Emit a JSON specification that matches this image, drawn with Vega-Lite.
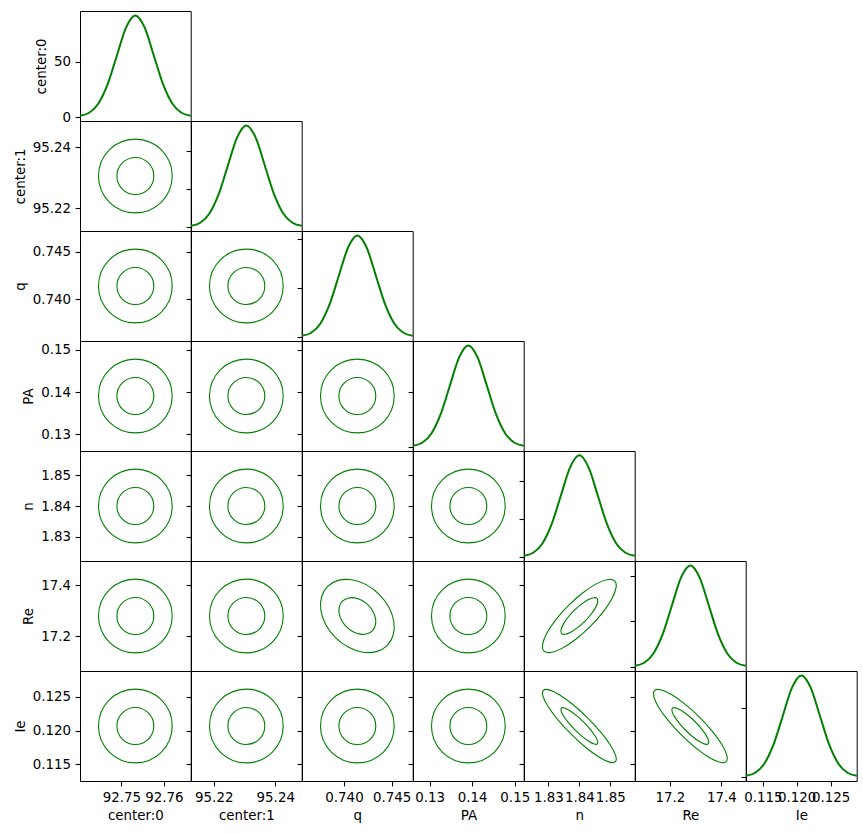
{
"$schema": "https://vega.github.io/schema/vega-lite/v6.json",
"background": "white",
"padding": {"left": 12, "top": 10, "right": 5, "bottom": 5},
"columns": 7,
"spacing": 0,
"bounds": "flush",
"config": {
 "view": {"stroke": "black", "strokeWidth": 1},
 "font": "DejaVu Sans",
 "axis": {"domain": false, "grid": false, "tickColor": "black", "tickSize": 4.9, "tickWidth": 1.1, "labelColor": "black", "labelFont": "DejaVu Sans", "labelFontSize": 13.4, "labelPadding": 4.5, "labelOverlap": false, "labelFlush": false, "labelBound": false, "titleColor": "black", "titleFont": "DejaVu Sans", "titleFontSize": 13.4, "titleFontWeight": "normal", "titlePadding": 5}
},
"concat": [
{"width":110.7,"height":110,"data":{"values":[{"x":92.7403,"y":1.29},{"x":92.74247,"y":4.04},{"x":92.74463,"y":12.46},{"x":92.7468,"y":29.89},{"x":92.74897,"y":55.84},{"x":92.75113,"y":81.25},{"x":92.7533,"y":92.07},{"x":92.75547,"y":81.25},{"x":92.75763,"y":55.84},{"x":92.7598,"y":29.89},{"x":92.76197,"y":12.46},{"x":92.76413,"y":4.04},{"x":92.7663,"y":1.29}]},
 "mark":{"type":"line","interpolate":"monotone","color":"#008000","strokeWidth":2},
 "encoding":{"x":{"field":"x","type":"quantitative","scale":{"domain":[92.7403,92.7663],"nice":false,"zero":false},"axis":null},
  "y":{"field":"y","type":"quantitative","scale":{"domain":[-3.41,96.03],"nice":false,"zero":false},"axis":{"values":[0,50],"format":"d","title":"center:0"}}}},
{"width":110.7,"height":110,"data":{"values":[{}]},"mark":{"type":"point","opacity":0},"encoding":{},"view":{"stroke":null}},
{"width":110.7,"height":110,"data":{"values":[{}]},"mark":{"type":"point","opacity":0},"encoding":{},"view":{"stroke":null}},
{"width":110.7,"height":110,"data":{"values":[{}]},"mark":{"type":"point","opacity":0},"encoding":{},"view":{"stroke":null}},
{"width":110.7,"height":110,"data":{"values":[{}]},"mark":{"type":"point","opacity":0},"encoding":{},"view":{"stroke":null}},
{"width":110.7,"height":110,"data":{"values":[{}]},"mark":{"type":"point","opacity":0},"encoding":{},"view":{"stroke":null}},
{"width":110.7,"height":110,"data":{"values":[{}]},"mark":{"type":"point","opacity":0},"encoding":{},"view":{"stroke":null}},

{"width":110.7,"height":110,"data":{"values":[{"x":92.7533,"y":95.2306}]},
 "encoding":{"x":{"field":"x","type":"quantitative","scale":{"domain":[92.7403,92.7663],"nice":false,"zero":false},"axis":null},
  "y":{"field":"y","type":"quantitative","scale":{"domain":[95.2126,95.2486],"nice":false,"zero":false},"axis":{"values":[95.22,95.24],"format":".2f","title":"center:1"}}},
 "layer":[{"mark":{"type":"point","shape":"circle","filled":false,"size":5432,"color":"#008000","strokeWidth":1.1,"opacity":1}},{"mark":{"type":"point","shape":"circle","filled":false,"size":1362,"color":"#008000","strokeWidth":1.1,"opacity":1}}]},
{"width":110.7,"height":110,"data":{"values":[{"x":95.2126,"y":0.93},{"x":95.2156,"y":2.92},{"x":95.2186,"y":9.0},{"x":95.2216,"y":21.59},{"x":95.2246,"y":40.33},{"x":95.2276,"y":58.68},{"x":95.2306,"y":66.49},{"x":95.2336,"y":58.68},{"x":95.2366,"y":40.33},{"x":95.2396,"y":21.59},{"x":95.2426,"y":9.0},{"x":95.2456,"y":2.92},{"x":95.2486,"y":0.93}]},
 "mark":{"type":"line","interpolate":"monotone","color":"#008000","strokeWidth":2},
 "encoding":{"x":{"field":"x","type":"quantitative","scale":{"domain":[95.2126,95.2486],"nice":false,"zero":false},"axis":null},
  "y":{"field":"y","type":"quantitative","scale":{"domain":[-2.46,69.35],"nice":false,"zero":false},"axis":{"values":[0,25,50],"labels":false,"title":null}}}},
{"width":110.7,"height":110,"data":{"values":[{}]},"mark":{"type":"point","opacity":0},"encoding":{},"view":{"stroke":null}},
{"width":110.7,"height":110,"data":{"values":[{}]},"mark":{"type":"point","opacity":0},"encoding":{},"view":{"stroke":null}},
{"width":110.7,"height":110,"data":{"values":[{}]},"mark":{"type":"point","opacity":0},"encoding":{},"view":{"stroke":null}},
{"width":110.7,"height":110,"data":{"values":[{}]},"mark":{"type":"point","opacity":0},"encoding":{},"view":{"stroke":null}},
{"width":110.7,"height":110,"data":{"values":[{}]},"mark":{"type":"point","opacity":0},"encoding":{},"view":{"stroke":null}},

{"width":110.7,"height":110,"data":{"values":[{"x":92.7533,"y":0.7414}]},
 "encoding":{"x":{"field":"x","type":"quantitative","scale":{"domain":[92.7403,92.7663],"nice":false,"zero":false},"axis":null},
  "y":{"field":"y","type":"quantitative","scale":{"domain":[0.7356,0.7472],"nice":false,"zero":false},"axis":{"values":[0.74,0.745],"format":".3f","title":"q"}}},
 "layer":[{"mark":{"type":"point","shape":"circle","filled":false,"size":5432,"color":"#008000","strokeWidth":1.1,"opacity":1}},{"mark":{"type":"point","shape":"circle","filled":false,"size":1362,"color":"#008000","strokeWidth":1.1,"opacity":1}}]},
{"width":110.7,"height":110,"data":{"values":[{"x":95.2306,"y":0.7414}]},
 "encoding":{"x":{"field":"x","type":"quantitative","scale":{"domain":[95.2126,95.2486],"nice":false,"zero":false},"axis":null},
  "y":{"field":"y","type":"quantitative","scale":{"domain":[0.7356,0.7472],"nice":false,"zero":false},"axis":{"values":[0.74,0.745],"labels":false,"title":null}}},
 "layer":[{"mark":{"type":"point","shape":"circle","filled":false,"size":5432,"color":"#008000","strokeWidth":1.1,"opacity":1}},{"mark":{"type":"point","shape":"circle","filled":false,"size":1362,"color":"#008000","strokeWidth":1.1,"opacity":1}}]},
{"width":110.7,"height":110,"data":{"values":[{"x":0.7356,"y":2.89},{"x":0.736567,"y":9.06},{"x":0.737533,"y":27.92},{"x":0.7385,"y":67.0},{"x":0.739467,"y":125.15},{"x":0.740433,"y":182.1},{"x":0.7414,"y":206.35},{"x":0.742367,"y":182.1},{"x":0.743333,"y":125.15},{"x":0.7443,"y":67.0},{"x":0.745267,"y":27.92},{"x":0.746233,"y":9.06},{"x":0.7472,"y":2.89}]},
 "mark":{"type":"line","interpolate":"monotone","color":"#008000","strokeWidth":2},
 "encoding":{"x":{"field":"x","type":"quantitative","scale":{"domain":[0.7356,0.7472],"nice":false,"zero":false},"axis":null},
  "y":{"field":"y","type":"quantitative","scale":{"domain":[-7.63,215.22],"nice":false,"zero":false},"axis":{"values":[0,100,200],"labels":false,"title":null}}}},
{"width":110.7,"height":110,"data":{"values":[{}]},"mark":{"type":"point","opacity":0},"encoding":{},"view":{"stroke":null}},
{"width":110.7,"height":110,"data":{"values":[{}]},"mark":{"type":"point","opacity":0},"encoding":{},"view":{"stroke":null}},
{"width":110.7,"height":110,"data":{"values":[{}]},"mark":{"type":"point","opacity":0},"encoding":{},"view":{"stroke":null}},
{"width":110.7,"height":110,"data":{"values":[{}]},"mark":{"type":"point","opacity":0},"encoding":{},"view":{"stroke":null}},

{"width":110.7,"height":110,"data":{"values":[{"x":92.7533,"y":0.1391}]},
 "encoding":{"x":{"field":"x","type":"quantitative","scale":{"domain":[92.7403,92.7663],"nice":false,"zero":false},"axis":null},
  "y":{"field":"y","type":"quantitative","scale":{"domain":[0.1261,0.1521],"nice":false,"zero":false},"axis":{"values":[0.13,0.14,0.15],"format":".2f","title":"PA"}}},
 "layer":[{"mark":{"type":"point","shape":"circle","filled":false,"size":5432,"color":"#008000","strokeWidth":1.1,"opacity":1}},{"mark":{"type":"point","shape":"circle","filled":false,"size":1362,"color":"#008000","strokeWidth":1.1,"opacity":1}}]},
{"width":110.7,"height":110,"data":{"values":[{"x":95.2306,"y":0.1391}]},
 "encoding":{"x":{"field":"x","type":"quantitative","scale":{"domain":[95.2126,95.2486],"nice":false,"zero":false},"axis":null},
  "y":{"field":"y","type":"quantitative","scale":{"domain":[0.1261,0.1521],"nice":false,"zero":false},"axis":{"values":[0.13,0.14,0.15],"labels":false,"title":null}}},
 "layer":[{"mark":{"type":"point","shape":"circle","filled":false,"size":5432,"color":"#008000","strokeWidth":1.1,"opacity":1}},{"mark":{"type":"point","shape":"circle","filled":false,"size":1362,"color":"#008000","strokeWidth":1.1,"opacity":1}}]},
{"width":110.7,"height":110,"data":{"values":[{"x":0.7414,"y":0.1391}]},
 "encoding":{"x":{"field":"x","type":"quantitative","scale":{"domain":[0.7356,0.7472],"nice":false,"zero":false},"axis":null},
  "y":{"field":"y","type":"quantitative","scale":{"domain":[0.1261,0.1521],"nice":false,"zero":false},"axis":{"values":[0.13,0.14,0.15],"labels":false,"title":null}}},
 "layer":[{"mark":{"type":"point","shape":"circle","filled":false,"size":5432,"color":"#008000","strokeWidth":1.1,"opacity":1}},{"mark":{"type":"point","shape":"circle","filled":false,"size":1362,"color":"#008000","strokeWidth":1.1,"opacity":1}}]},
{"width":110.7,"height":110,"data":{"values":[{"x":0.1261,"y":1.29},{"x":0.128267,"y":4.04},{"x":0.130433,"y":12.46},{"x":0.1326,"y":29.89},{"x":0.134767,"y":55.84},{"x":0.136933,"y":81.25},{"x":0.1391,"y":92.07},{"x":0.141267,"y":81.25},{"x":0.143433,"y":55.84},{"x":0.1456,"y":29.89},{"x":0.147767,"y":12.46},{"x":0.149933,"y":4.04},{"x":0.1521,"y":1.29}]},
 "mark":{"type":"line","interpolate":"monotone","color":"#008000","strokeWidth":2},
 "encoding":{"x":{"field":"x","type":"quantitative","scale":{"domain":[0.1261,0.1521],"nice":false,"zero":false},"axis":null},
  "y":{"field":"y","type":"quantitative","scale":{"domain":[-3.41,96.03],"nice":false,"zero":false},"axis":{"values":[0,50],"labels":false,"title":null}}}},
{"width":110.7,"height":110,"data":{"values":[{}]},"mark":{"type":"point","opacity":0},"encoding":{},"view":{"stroke":null}},
{"width":110.7,"height":110,"data":{"values":[{}]},"mark":{"type":"point","opacity":0},"encoding":{},"view":{"stroke":null}},
{"width":110.7,"height":110,"data":{"values":[{}]},"mark":{"type":"point","opacity":0},"encoding":{},"view":{"stroke":null}},

{"width":110.7,"height":110,"data":{"values":[{"x":92.7533,"y":1.84}]},
 "encoding":{"x":{"field":"x","type":"quantitative","scale":{"domain":[92.7403,92.7663],"nice":false,"zero":false},"axis":null},
  "y":{"field":"y","type":"quantitative","scale":{"domain":[1.8221,1.8579],"nice":false,"zero":false},"axis":{"values":[1.83,1.84,1.85],"format":".2f","title":"n"}}},
 "layer":[{"mark":{"type":"point","shape":"circle","filled":false,"size":5432,"color":"#008000","strokeWidth":1.1,"opacity":1}},{"mark":{"type":"point","shape":"circle","filled":false,"size":1362,"color":"#008000","strokeWidth":1.1,"opacity":1}}]},
{"width":110.7,"height":110,"data":{"values":[{"x":95.2306,"y":1.84}]},
 "encoding":{"x":{"field":"x","type":"quantitative","scale":{"domain":[95.2126,95.2486],"nice":false,"zero":false},"axis":null},
  "y":{"field":"y","type":"quantitative","scale":{"domain":[1.8221,1.8579],"nice":false,"zero":false},"axis":{"values":[1.83,1.84,1.85],"labels":false,"title":null}}},
 "layer":[{"mark":{"type":"point","shape":"circle","filled":false,"size":5432,"color":"#008000","strokeWidth":1.1,"opacity":1}},{"mark":{"type":"point","shape":"circle","filled":false,"size":1362,"color":"#008000","strokeWidth":1.1,"opacity":1}}]},
{"width":110.7,"height":110,"data":{"values":[{"x":0.7414,"y":1.84}]},
 "encoding":{"x":{"field":"x","type":"quantitative","scale":{"domain":[0.7356,0.7472],"nice":false,"zero":false},"axis":null},
  "y":{"field":"y","type":"quantitative","scale":{"domain":[1.8221,1.8579],"nice":false,"zero":false},"axis":{"values":[1.83,1.84,1.85],"labels":false,"title":null}}},
 "layer":[{"mark":{"type":"point","shape":"circle","filled":false,"size":5432,"color":"#008000","strokeWidth":1.1,"opacity":1}},{"mark":{"type":"point","shape":"circle","filled":false,"size":1362,"color":"#008000","strokeWidth":1.1,"opacity":1}}]},
{"width":110.7,"height":110,"data":{"values":[{"x":0.1391,"y":1.84}]},
 "encoding":{"x":{"field":"x","type":"quantitative","scale":{"domain":[0.1261,0.1521],"nice":false,"zero":false},"axis":null},
  "y":{"field":"y","type":"quantitative","scale":{"domain":[1.8221,1.8579],"nice":false,"zero":false},"axis":{"values":[1.83,1.84,1.85],"labels":false,"title":null}}},
 "layer":[{"mark":{"type":"point","shape":"circle","filled":false,"size":5432,"color":"#008000","strokeWidth":1.1,"opacity":1}},{"mark":{"type":"point","shape":"circle","filled":false,"size":1362,"color":"#008000","strokeWidth":1.1,"opacity":1}}]},
{"width":110.7,"height":110,"data":{"values":[{"x":1.8221,"y":0.94},{"x":1.825083,"y":2.94},{"x":1.828067,"y":9.05},{"x":1.83105,"y":21.71},{"x":1.834033,"y":40.55},{"x":1.837017,"y":59.0},{"x":1.84,"y":66.86},{"x":1.842983,"y":59.0},{"x":1.845967,"y":40.55},{"x":1.84895,"y":21.71},{"x":1.851933,"y":9.05},{"x":1.854917,"y":2.94},{"x":1.8579,"y":0.94}]},
 "mark":{"type":"line","interpolate":"monotone","color":"#008000","strokeWidth":2},
 "encoding":{"x":{"field":"x","type":"quantitative","scale":{"domain":[1.8221,1.8579],"nice":false,"zero":false},"axis":null},
  "y":{"field":"y","type":"quantitative","scale":{"domain":[-2.47,69.73],"nice":false,"zero":false},"axis":{"values":[0,25,50],"labels":false,"title":null}}}},
{"width":110.7,"height":110,"data":{"values":[{}]},"mark":{"type":"point","opacity":0},"encoding":{},"view":{"stroke":null}},
{"width":110.7,"height":110,"data":{"values":[{}]},"mark":{"type":"point","opacity":0},"encoding":{},"view":{"stroke":null}},

{"width":110.7,"height":110,"data":{"values":[{"x":92.7533,"y":17.2795}]},
 "encoding":{"x":{"field":"x","type":"quantitative","scale":{"domain":[92.7403,92.7663],"nice":false,"zero":false},"axis":null},
  "y":{"field":"y","type":"quantitative","scale":{"domain":[17.064,17.495],"nice":false,"zero":false},"axis":{"values":[17.2,17.4],"format":".1f","title":"Re"}}},
 "layer":[{"mark":{"type":"point","shape":"circle","filled":false,"size":5432,"color":"#008000","strokeWidth":1.1,"opacity":1}},{"mark":{"type":"point","shape":"circle","filled":false,"size":1362,"color":"#008000","strokeWidth":1.1,"opacity":1}}]},
{"width":110.7,"height":110,"data":{"values":[{"x":95.2306,"y":17.2795}]},
 "encoding":{"x":{"field":"x","type":"quantitative","scale":{"domain":[95.2126,95.2486],"nice":false,"zero":false},"axis":null},
  "y":{"field":"y","type":"quantitative","scale":{"domain":[17.064,17.495],"nice":false,"zero":false},"axis":{"values":[17.2,17.4],"labels":false,"title":null}}},
 "layer":[{"mark":{"type":"point","shape":"circle","filled":false,"size":5432,"color":"#008000","strokeWidth":1.1,"opacity":1}},{"mark":{"type":"point","shape":"circle","filled":false,"size":1362,"color":"#008000","strokeWidth":1.1,"opacity":1}}]},
{"width":110.7,"height":110,"data":{"values":[
 {"x":0.742544,"y":17.322,"lvl":1,"k":0},{"x":0.743053,"y":17.2966,"lvl":1,"k":1},{"x":0.743311,"y":17.2686,"lvl":1,"k":2},{"x":0.743278,"y":17.2423,"lvl":1,"k":3},{"x":0.742959,"y":17.2216,"lvl":1,"k":4},{"x":0.742402,"y":17.2097,"lvl":1,"k":5},{"x":0.741693,"y":17.2085,"lvl":1,"k":6},{"x":0.74094,"y":17.2181,"lvl":1,"k":7},{"x":0.740256,"y":17.237,"lvl":1,"k":8},{"x":0.739747,"y":17.2624,"lvl":1,"k":9},{"x":0.739489,"y":17.2904,"lvl":1,"k":10},{"x":0.739522,"y":17.3167,"lvl":1,"k":11},{"x":0.739841,"y":17.3374,"lvl":1,"k":12},{"x":0.740398,"y":17.3493,"lvl":1,"k":13},{"x":0.741107,"y":17.3505,"lvl":1,"k":14},{"x":0.74186,"y":17.3409,"lvl":1,"k":15},
 {"x":0.743688,"y":17.3645,"lvl":2,"k":0},{"x":0.744706,"y":17.3137,"lvl":2,"k":1},{"x":0.745222,"y":17.2577,"lvl":2,"k":2},{"x":0.745155,"y":17.205,"lvl":2,"k":3},{"x":0.744517,"y":17.1637,"lvl":2,"k":4},{"x":0.743405,"y":17.14,"lvl":2,"k":5},{"x":0.741987,"y":17.1375,"lvl":2,"k":6},{"x":0.74048,"y":17.1567,"lvl":2,"k":7},{"x":0.739112,"y":17.1945,"lvl":2,"k":8},{"x":0.738094,"y":17.2453,"lvl":2,"k":9},{"x":0.737578,"y":17.3013,"lvl":2,"k":10},{"x":0.737645,"y":17.354,"lvl":2,"k":11},{"x":0.738283,"y":17.3953,"lvl":2,"k":12},{"x":0.739395,"y":17.419,"lvl":2,"k":13},{"x":0.740813,"y":17.4215,"lvl":2,"k":14},{"x":0.74232,"y":17.4024,"lvl":2,"k":15}]},
 "mark":{"type":"line","interpolate":"cardinal-closed","color":"#008000","strokeWidth":1.1},
 "encoding":{"x":{"field":"x","type":"quantitative","scale":{"domain":[0.7356,0.7472],"nice":false,"zero":false},"axis":null},
  "y":{"field":"y","type":"quantitative","scale":{"domain":[17.064,17.495],"nice":false,"zero":false},"axis":{"values":[17.2,17.4],"labels":false,"title":null}},
  "detail":{"field":"lvl","type":"nominal"},"order":{"field":"k","type":"quantitative"}}},
{"width":110.7,"height":110,"data":{"values":[{"x":0.1391,"y":17.2795}]},
 "encoding":{"x":{"field":"x","type":"quantitative","scale":{"domain":[0.1261,0.1521],"nice":false,"zero":false},"axis":null},
  "y":{"field":"y","type":"quantitative","scale":{"domain":[17.064,17.495],"nice":false,"zero":false},"axis":{"values":[17.2,17.4],"labels":false,"title":null}}},
 "layer":[{"mark":{"type":"point","shape":"circle","filled":false,"size":5432,"color":"#008000","strokeWidth":1.1,"opacity":1}},{"mark":{"type":"point","shape":"circle","filled":false,"size":1362,"color":"#008000","strokeWidth":1.1,"opacity":1}}]},
{"width":110.7,"height":110,"data":{"values":[
 {"x":1.845708,"y":17.3482,"lvl":1,"k":0},{"x":1.845939,"y":17.335,"lvl":1,"k":1},{"x":1.845266,"y":17.3133,"lvl":1,"k":2},{"x":1.843792,"y":17.2864,"lvl":1,"k":3},{"x":1.84174,"y":17.2586,"lvl":1,"k":4},{"x":1.839423,"y":17.2339,"lvl":1,"k":5},{"x":1.837194,"y":17.2161,"lvl":1,"k":6},{"x":1.835392,"y":17.208,"lvl":1,"k":7},{"x":1.834292,"y":17.2108,"lvl":1,"k":8},{"x":1.834061,"y":17.224,"lvl":1,"k":9},{"x":1.834734,"y":17.2457,"lvl":1,"k":10},{"x":1.836208,"y":17.2726,"lvl":1,"k":11},{"x":1.83826,"y":17.3004,"lvl":1,"k":12},{"x":1.840577,"y":17.3251,"lvl":1,"k":13},{"x":1.842806,"y":17.3429,"lvl":1,"k":14},{"x":1.844608,"y":17.351,"lvl":1,"k":15},
 {"x":1.851416,"y":17.4169,"lvl":2,"k":0},{"x":1.851878,"y":17.3904,"lvl":2,"k":1},{"x":1.850532,"y":17.3471,"lvl":2,"k":2},{"x":1.847584,"y":17.2934,"lvl":2,"k":3},{"x":1.84348,"y":17.2376,"lvl":2,"k":4},{"x":1.838846,"y":17.1882,"lvl":2,"k":5},{"x":1.834388,"y":17.1527,"lvl":2,"k":6},{"x":1.830784,"y":17.1365,"lvl":2,"k":7},{"x":1.828584,"y":17.1421,"lvl":2,"k":8},{"x":1.828122,"y":17.1686,"lvl":2,"k":9},{"x":1.829468,"y":17.2119,"lvl":2,"k":10},{"x":1.832416,"y":17.2656,"lvl":2,"k":11},{"x":1.83652,"y":17.3214,"lvl":2,"k":12},{"x":1.841154,"y":17.3708,"lvl":2,"k":13},{"x":1.845612,"y":17.4063,"lvl":2,"k":14},{"x":1.849216,"y":17.4225,"lvl":2,"k":15}]},
 "mark":{"type":"line","interpolate":"cardinal-closed","color":"#008000","strokeWidth":1.1},
 "encoding":{"x":{"field":"x","type":"quantitative","scale":{"domain":[1.8221,1.8579],"nice":false,"zero":false},"axis":null},
  "y":{"field":"y","type":"quantitative","scale":{"domain":[17.064,17.495],"nice":false,"zero":false},"axis":{"values":[17.2,17.4],"labels":false,"title":null}},
  "detail":{"field":"lvl","type":"nominal"},"order":{"field":"k","type":"quantitative"}}},
{"width":110.7,"height":110,"data":{"values":[{"x":17.064,"y":0.078},{"x":17.0999,"y":0.244},{"x":17.1358,"y":0.751},{"x":17.1718,"y":1.803},{"x":17.2077,"y":3.369},{"x":17.2436,"y":4.901},{"x":17.2795,"y":5.554},{"x":17.3154,"y":4.901},{"x":17.3513,"y":3.369},{"x":17.3873,"y":1.803},{"x":17.4232,"y":0.751},{"x":17.4591,"y":0.244},{"x":17.495,"y":0.078}]},
 "mark":{"type":"line","interpolate":"monotone","color":"#008000","strokeWidth":2},
 "encoding":{"x":{"field":"x","type":"quantitative","scale":{"domain":[17.064,17.495],"nice":false,"zero":false},"axis":null},
  "y":{"field":"y","type":"quantitative","scale":{"domain":[-0.2055,5.793],"nice":false,"zero":false},"axis":{"values":[0,2.5,5],"labels":false,"title":null}}}},
{"width":110.7,"height":110,"data":{"values":[{}]},"mark":{"type":"point","opacity":0},"encoding":{},"view":{"stroke":null}},

{"width":110.7,"height":110,"data":{"values":[{"x":92.7533,"y":0.12069}]},
 "encoding":{"x":{"field":"x","type":"quantitative","scale":{"domain":[92.7403,92.7663],"nice":false,"zero":false},"axis":{"values":[92.75,92.76],"format":".2f","title":"center:0"}},
  "y":{"field":"y","type":"quantitative","scale":{"domain":[0.11252,0.12886],"nice":false,"zero":false},"axis":{"values":[0.115,0.12,0.125],"format":".3f","title":"Ie"}}},
 "layer":[{"mark":{"type":"point","shape":"circle","filled":false,"size":5432,"color":"#008000","strokeWidth":1.1,"opacity":1}},{"mark":{"type":"point","shape":"circle","filled":false,"size":1362,"color":"#008000","strokeWidth":1.1,"opacity":1}}]},
{"width":110.7,"height":110,"data":{"values":[{"x":95.2306,"y":0.12069}]},
 "encoding":{"x":{"field":"x","type":"quantitative","scale":{"domain":[95.2126,95.2486],"nice":false,"zero":false},"axis":{"values":[95.22,95.24],"format":".2f","title":"center:1"}},
  "y":{"field":"y","type":"quantitative","scale":{"domain":[0.11252,0.12886],"nice":false,"zero":false},"axis":{"values":[0.115,0.12,0.125],"labels":false,"title":null}}},
 "layer":[{"mark":{"type":"point","shape":"circle","filled":false,"size":5432,"color":"#008000","strokeWidth":1.1,"opacity":1}},{"mark":{"type":"point","shape":"circle","filled":false,"size":1362,"color":"#008000","strokeWidth":1.1,"opacity":1}}]},
{"width":110.7,"height":110,"data":{"values":[{"x":0.7414,"y":0.12069}]},
 "encoding":{"x":{"field":"x","type":"quantitative","scale":{"domain":[0.7356,0.7472],"nice":false,"zero":false},"axis":{"values":[0.74,0.745],"format":".3f","title":"q"}},
  "y":{"field":"y","type":"quantitative","scale":{"domain":[0.11252,0.12886],"nice":false,"zero":false},"axis":{"values":[0.115,0.12,0.125],"labels":false,"title":null}}},
 "layer":[{"mark":{"type":"point","shape":"circle","filled":false,"size":5432,"color":"#008000","strokeWidth":1.1,"opacity":1}},{"mark":{"type":"point","shape":"circle","filled":false,"size":1362,"color":"#008000","strokeWidth":1.1,"opacity":1}}]},
{"width":110.7,"height":110,"data":{"values":[{"x":0.1391,"y":0.12069}]},
 "encoding":{"x":{"field":"x","type":"quantitative","scale":{"domain":[0.1261,0.1521],"nice":false,"zero":false},"axis":{"values":[0.13,0.14,0.15],"format":".2f","title":"PA"}},
  "y":{"field":"y","type":"quantitative","scale":{"domain":[0.11252,0.12886],"nice":false,"zero":false},"axis":{"values":[0.115,0.12,0.125],"labels":false,"title":null}}},
 "layer":[{"mark":{"type":"point","shape":"circle","filled":false,"size":5432,"color":"#008000","strokeWidth":1.1,"opacity":1}},{"mark":{"type":"point","shape":"circle","filled":false,"size":1362,"color":"#008000","strokeWidth":1.1,"opacity":1}}]},
{"width":110.7,"height":110,"data":{"values":[
 {"x":1.841334,"y":0.121299,"lvl":1,"k":0},{"x":1.843458,"y":0.120237,"lvl":1,"k":1},{"x":1.845056,"y":0.119244,"lvl":1,"k":2},{"x":1.845884,"y":0.118471,"lvl":1,"k":3},{"x":1.845816,"y":0.118036,"lvl":1,"k":4},{"x":1.844863,"y":0.118005,"lvl":1,"k":5},{"x":1.843169,"y":0.118383,"lvl":1,"k":6},{"x":1.840993,"y":0.119112,"lvl":1,"k":7},{"x":1.838666,"y":0.120081,"lvl":1,"k":8},{"x":1.836542,"y":0.121143,"lvl":1,"k":9},{"x":1.834944,"y":0.122136,"lvl":1,"k":10},{"x":1.834116,"y":0.122909,"lvl":1,"k":11},{"x":1.834184,"y":0.123344,"lvl":1,"k":12},{"x":1.835137,"y":0.123375,"lvl":1,"k":13},{"x":1.836831,"y":0.122997,"lvl":1,"k":14},{"x":1.839007,"y":0.122268,"lvl":1,"k":15},
 {"x":1.842668,"y":0.121908,"lvl":2,"k":0},{"x":1.846916,"y":0.119784,"lvl":2,"k":1},{"x":1.850112,"y":0.117798,"lvl":2,"k":2},{"x":1.851768,"y":0.116252,"lvl":2,"k":3},{"x":1.851632,"y":0.115382,"lvl":2,"k":4},{"x":1.849726,"y":0.11532,"lvl":2,"k":5},{"x":1.846338,"y":0.116076,"lvl":2,"k":6},{"x":1.841986,"y":0.117534,"lvl":2,"k":7},{"x":1.837332,"y":0.119472,"lvl":2,"k":8},{"x":1.833084,"y":0.121596,"lvl":2,"k":9},{"x":1.829888,"y":0.123582,"lvl":2,"k":10},{"x":1.828232,"y":0.125128,"lvl":2,"k":11},{"x":1.828368,"y":0.125998,"lvl":2,"k":12},{"x":1.830274,"y":0.12606,"lvl":2,"k":13},{"x":1.833662,"y":0.125304,"lvl":2,"k":14},{"x":1.838014,"y":0.123846,"lvl":2,"k":15}]},
 "mark":{"type":"line","interpolate":"cardinal-closed","color":"#008000","strokeWidth":1.1},
 "encoding":{"x":{"field":"x","type":"quantitative","scale":{"domain":[1.8221,1.8579],"nice":false,"zero":false},"axis":{"values":[1.83,1.84,1.85],"format":".2f","title":"n"}},
  "y":{"field":"y","type":"quantitative","scale":{"domain":[0.11252,0.12886],"nice":false,"zero":false},"axis":{"values":[0.115,0.12,0.125],"labels":false,"title":null}},
  "detail":{"field":"lvl","type":"nominal"},"order":{"field":"k","type":"quantitative"}}},
{"width":110.7,"height":110,"data":{"values":[
 {"x":17.2971,"y":0.121357,"lvl":1,"k":0},{"x":17.3224,"y":0.120296,"lvl":1,"k":1},{"x":17.3412,"y":0.119295,"lvl":1,"k":2},{"x":17.3506,"y":0.118506,"lvl":1,"k":3},{"x":17.3491,"y":0.11805,"lvl":1,"k":4},{"x":17.3371,"y":0.117996,"lvl":1,"k":5},{"x":17.3163,"y":0.118352,"lvl":1,"k":6},{"x":17.2899,"y":0.119063,"lvl":1,"k":7},{"x":17.2619,"y":0.120023,"lvl":1,"k":8},{"x":17.2366,"y":0.121084,"lvl":1,"k":9},{"x":17.2178,"y":0.122085,"lvl":1,"k":10},{"x":17.2084,"y":0.122874,"lvl":1,"k":11},{"x":17.2099,"y":0.12333,"lvl":1,"k":12},{"x":17.2219,"y":0.123384,"lvl":1,"k":13},{"x":17.2427,"y":0.123028,"lvl":1,"k":14},{"x":17.2691,"y":0.122317,"lvl":1,"k":15},
 {"x":17.3147,"y":0.122024,"lvl":2,"k":0},{"x":17.3653,"y":0.119902,"lvl":2,"k":1},{"x":17.4029,"y":0.1179,"lvl":2,"k":2},{"x":17.4217,"y":0.116322,"lvl":2,"k":3},{"x":17.4188,"y":0.11541,"lvl":2,"k":4},{"x":17.3947,"y":0.115302,"lvl":2,"k":5},{"x":17.3531,"y":0.116014,"lvl":2,"k":6},{"x":17.3003,"y":0.117436,"lvl":2,"k":7},{"x":17.2443,"y":0.119356,"lvl":2,"k":8},{"x":17.1937,"y":0.121478,"lvl":2,"k":9},{"x":17.1561,"y":0.12348,"lvl":2,"k":10},{"x":17.1373,"y":0.125058,"lvl":2,"k":11},{"x":17.1402,"y":0.12597,"lvl":2,"k":12},{"x":17.1643,"y":0.126078,"lvl":2,"k":13},{"x":17.2059,"y":0.125366,"lvl":2,"k":14},{"x":17.2587,"y":0.123944,"lvl":2,"k":15}]},
 "mark":{"type":"line","interpolate":"cardinal-closed","color":"#008000","strokeWidth":1.1},
 "encoding":{"x":{"field":"x","type":"quantitative","scale":{"domain":[17.064,17.495],"nice":false,"zero":false},"axis":{"values":[17.2,17.4],"format":".1f","title":"Re"}},
  "y":{"field":"y","type":"quantitative","scale":{"domain":[0.11252,0.12886],"nice":false,"zero":false},"axis":{"values":[0.115,0.12,0.125],"labels":false,"title":null}},
  "detail":{"field":"lvl","type":"nominal"},"order":{"field":"k","type":"quantitative"}}},
{"width":110.7,"height":110,"data":{"values":[{"x":0.11252,"y":2.05},{"x":0.113882,"y":6.43},{"x":0.115243,"y":19.82},{"x":0.116605,"y":47.57},{"x":0.117967,"y":88.85},{"x":0.119328,"y":129.29},{"x":0.12069,"y":146.5},{"x":0.122052,"y":129.29},{"x":0.123413,"y":88.85},{"x":0.124775,"y":47.57},{"x":0.126137,"y":19.82},{"x":0.127498,"y":6.43},{"x":0.12886,"y":2.05}]},
 "mark":{"type":"line","interpolate":"monotone","color":"#008000","strokeWidth":2},
 "encoding":{"x":{"field":"x","type":"quantitative","scale":{"domain":[0.11252,0.12886],"nice":false,"zero":false},"axis":{"values":[0.115,0.12,0.125],"format":".3f","title":"Ie"}},
  "y":{"field":"y","type":"quantitative","scale":{"domain":[-5.42,152.8],"nice":false,"zero":false},"axis":{"values":[0,100],"labels":false,"title":null}}}}
]
}
